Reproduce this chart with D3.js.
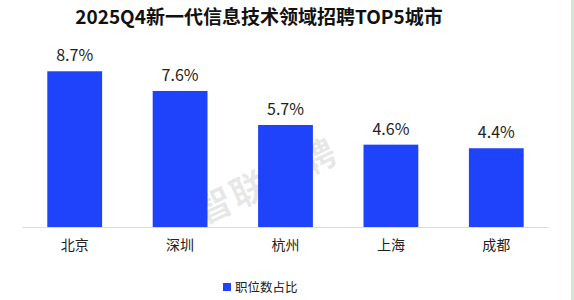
<!DOCTYPE html>
<html><head><meta charset="utf-8">
<script src="https://cdn.jsdelivr.net/npm/d3@7/dist/d3.min.js"></script>
<style>body{margin:0;background:#fff;}svg{display:block;}</style>
</head><body>
<svg id="c" width="574" height="300"></svg>
<script>
const title = "2025Q4新一代信息技术领域招聘TOP5城市";
const categories = ["北京", "深圳", "杭州", "上海", "成都"];
const values = [8.7, 7.6, 5.7, 4.6, 4.4];
const seriesName = "职位数占比";
const watermark = "智联招聘";

const svg = d3.select("#c");
const font = "'Noto Sans CJK SC','Microsoft YaHei',sans-serif";

svg.append("rect").attr("x", 571).attr("y", 0).attr("width", 3).attr("height", 300).attr("fill", "#cfe9cf");

svg.append("text").attr("x", 259).attr("y", 24).attr("text-anchor", "middle")
  .attr("font-family", font).attr("font-weight", "bold").attr("font-size", 19)
  .attr("fill", "#111").text(title);

const x = d3.scaleBand().domain(categories).range([22, 549]).paddingInner(0.48).paddingOuter(0.24);
const y = d3.scaleLinear().domain([0, 10]).range([227, 48]);

// watermark
svg.append("text").attr("transform", "translate(268,184) rotate(-25)")
  .attr("text-anchor", "middle").attr("dominant-baseline", "middle")
  .attr("font-family", font).attr("font-weight", "bold").attr("font-size", 36)
  .attr("letter-spacing", 2)
  .attr("fill", "#000").attr("fill-opacity", 0.09).text(watermark);

svg.append("g").selectAll("rect").data(values).join("rect")
  .attr("x", (d, i) => x(categories[i]))
  .attr("y", d => y(d))
  .attr("width", x.bandwidth())
  .attr("height", d => y(0) - y(d))
  .attr("fill", "#1e43fb");

svg.append("line").attr("x1", 22).attr("x2", 549).attr("y1", y(0) + 0.5).attr("y2", y(0) + 0.5)
  .attr("stroke", "#dcdcdc").attr("stroke-width", 1);

svg.append("g").selectAll("text").data(values).join("text")
  .attr("x", (d, i) => x(categories[i]) + x.bandwidth() / 2)
  .attr("y", d => y(d) - 10)
  .attr("text-anchor", "middle").attr("font-family", font).attr("font-size", 16)
  .attr("fill", "#222").text(d => d.toFixed(1) + "%");

const xAxis = d3.axisBottom(x).tickSize(0).tickPadding(13);
const gx = svg.append("g").attr("transform", `translate(0,${y(0)})`).call(xAxis);
gx.select(".domain").remove();
gx.selectAll("text").attr("font-family", font).attr("font-size", 14).attr("fill", "#222");

const lg = svg.append("g");
lg.append("rect").attr("x", 223).attr("y", 283).attr("width", 8).attr("height", 8).attr("fill", "#1e43fb");
lg.append("text").attr("x", 235).attr("y", 292).attr("font-family", font).attr("font-size", 12.5)
  .attr("fill", "#222").text(seriesName);
</script>
</body></html>
